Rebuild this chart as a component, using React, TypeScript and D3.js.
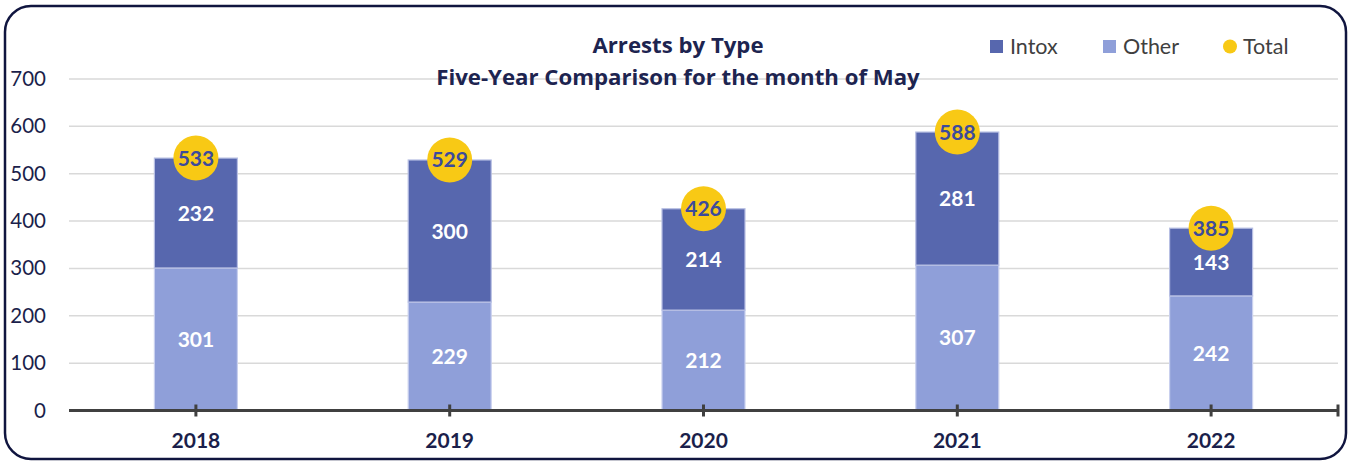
import React from "react";
import * as d3 from "d3";

const years = ["2018", "2019", "2020", "2021", "2022"];
const intox = [232, 300, 214, 281, 143];
const other = [301, 229, 212, 307, 242];
const total = [533, 529, 426, 588, 385];
const yTicks = [0, 100, 200, 300, 400, 500, 600, 700];

const W = 1352;
const H = 461;
const FONT = "Lato, 'Open Sans', sans-serif";
const TFONT = "'Open Sans', Lato, sans-serif";

export default function App() {
  const x = d3.scaleBand<string>().domain(years).range([69, 1338]).paddingInner(0).paddingOuter(0);
  const y = d3.scaleLinear().domain([0, 700]).range([410.5, 79]);
  const barW = 83;
  const navy = "#1b1f4b";

  return (
    <svg width={W} height={H} style={{ position: "absolute", left: 0, top: 0, background: "#fff" }}>
      <rect x={5} y={6} width={1341} height={453} rx={26} ry={26} fill="#fff" stroke="#10153f" strokeWidth={2.5} />
      {/* gridlines */}
      {yTicks.filter((t) => t > 0).map((t) => (
        <line key={t} x1={69} x2={1338} y1={y(t)} y2={y(t)} stroke="#d9d9d9" strokeWidth={1.5} />
      ))}
      {/* y labels */}
      {yTicks.map((t) => (
        <text key={t} x={46} y={y(t) + 7} textAnchor="end" fontFamily={FONT} fontSize={20.5} fill={navy}>
          {t}
        </text>
      ))}
      {/* bars */}
      {years.map((yr, i) => {
        const cx = (x(yr) as number) + x.bandwidth() / 2;
        const x0 = cx - barW / 2;
        return (
          <g key={yr}>
            <rect x={x0} y={y(other[i])} width={barW} height={y(0) - y(other[i])} fill="#8f9fd9" stroke="#c9d0ee" strokeWidth={1.2} />
            <rect x={x0} y={y(other[i] + intox[i])} width={barW} height={y(other[i]) - y(other[i] + intox[i])} fill="#5767ae" stroke="#b7bfe3" strokeWidth={1.2} />
            <text x={cx} y={(y(0) + y(other[i])) / 2 + 7.5} textAnchor="middle" fontFamily={FONT} fontWeight={700} fontSize={21} fill="#fff">
              {other[i]}
            </text>
            <text x={cx} y={(y(other[i]) + y(other[i] + intox[i])) / 2 + 7.5} textAnchor="middle" fontFamily={FONT} fontWeight={700} fontSize={21} fill="#fff">
              {intox[i]}
            </text>
          </g>
        );
      })}
      {/* axis */}
      <line x1={69} x2={1338} y1={y(0)} y2={y(0)} stroke="#404040" strokeWidth={3.2} />
      {years.map((yr) => {
        const cx = (x(yr) as number) + x.bandwidth() / 2;
        return <line key={yr} x1={cx} x2={cx} y1={y(0) - 6} y2={y(0) + 6} stroke="#404040" strokeWidth={3} />;
      })}
      <line x1={1338} x2={1338} y1={y(0) - 6} y2={y(0) + 6} stroke="#404040" strokeWidth={3} />
      {years.map((yr) => {
        const cx = (x(yr) as number) + x.bandwidth() / 2;
        return (
          <text key={yr} x={cx} y={448} textAnchor="middle" fontFamily={FONT} fontWeight={700} fontSize={21} fill={navy}>
            {yr}
          </text>
        );
      })}
      {/* totals */}
      {years.map((yr, i) => {
        const cx = (x(yr) as number) + x.bandwidth() / 2;
        return (
          <g key={yr}>
            <circle cx={cx} cy={y(total[i])} r={22.5} fill="#f8c915" />
            <text x={cx} y={y(total[i]) + 7.5} textAnchor="middle" fontFamily={FONT} fontWeight={700} fontSize={21} fill="#3c4a9c">
              {total[i]}
            </text>
          </g>
        );
      })}
      {/* title */}
      <text x={678} y={52.5} textAnchor="middle" fontFamily={TFONT} fontWeight={700} fontSize={22.2} fill="#1d2450">
        Arrests by Type
      </text>
      <text x={678} y={84.5} textAnchor="middle" fontFamily={TFONT} fontWeight={700} fontSize={22.2} fill="#1d2450">
        Five-Year Comparison for the month of May
      </text>
      {/* legend */}
      <rect x={990} y={40} width={13} height={13} fill="#5767ae" />
      <text x={1010} y={54} fontFamily={FONT} fontSize={21.5} fill="#404040">Intox</text>
      <rect x={1103} y={40} width={13} height={13} fill="#8f9fd9" />
      <text x={1123} y={54} fontFamily={FONT} fontSize={21.5} fill="#404040">Other</text>
      <circle cx={1230} cy={46.5} r={7} fill="#f8c915" />
      <text x={1243} y={54} fontFamily={FONT} fontSize={21.5} fill="#404040">Total</text>
    </svg>
  );
}
